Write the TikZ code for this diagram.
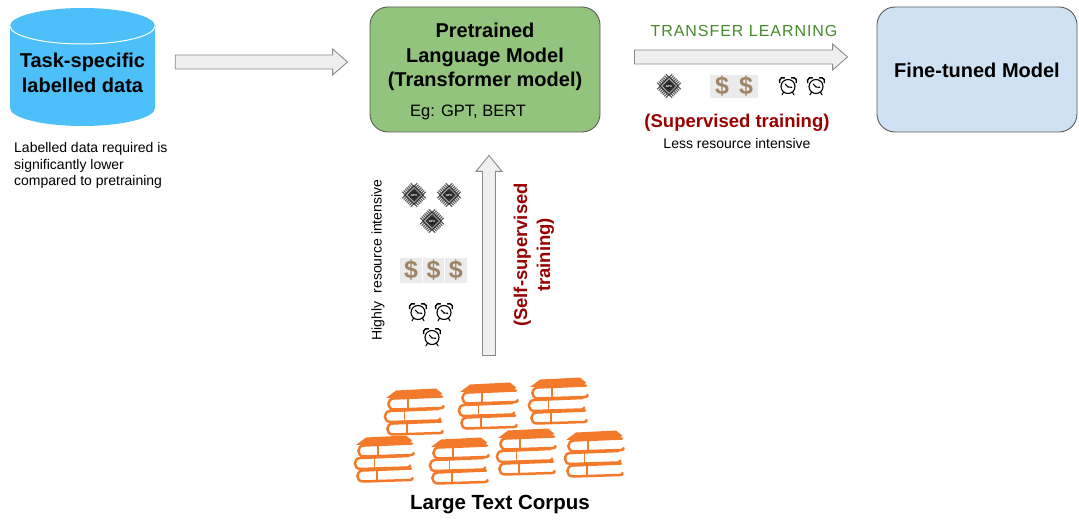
\documentclass[tikz,border=0pt]{standalone}
\usepackage{fontspec}
\setmainfont{Liberation Sans}
\newfontfamily\trackedfont{Liberation Sans}[LetterSpace=6]
\usetikzlibrary{calc}

\definecolor{cylblue}{HTML}{4DC0FA}
\definecolor{pmgreen}{HTML}{93C47D}
\definecolor{ftblue}{HTML}{CFE2F3}
\definecolor{boxline}{HTML}{5A5A5A}
\definecolor{darkred}{HTML}{990000}
\definecolor{tlgreen}{HTML}{468A2A}
\definecolor{bookorange}{HTML}{F27A2A}
\definecolor{dollarbrown}{HTML}{A08466}
\definecolor{cellgray}{HTML}{EBEBEB}
\definecolor{arrowfill}{HTML}{EFEFEF}
\definecolor{arrowline}{HTML}{8A8A8A}
\definecolor{gpudark}{HTML}{333333}
\definecolor{gpupin}{HTML}{5E5E5E}

% block arrow pointing right, from #1 to #2 (same height)
\newcommand\hblockarrow[2]{\draw[barrow] let \p1=(#1), \p2=(#2) in
  (\x1,\y1+7pt) -- (\x2-15pt,\y1+7pt) -- (\x2-15pt,\y1+13pt) -- (\x2,\y1)
  -- (\x2-15pt,\y1-13pt) -- (\x2-15pt,\y1-7pt) -- (\x1,\y1-7pt) -- cycle;}
% block arrow pointing up, from #1 (bottom) to #2 (tip)
\newcommand\vblockarrow[2]{\draw[barrow] let \p1=(#1), \p2=(#2) in
  (\x1-6.5pt,\y1) -- (\x1-6.5pt,\y2-16pt) -- (\x1-13pt,\y2-16pt) -- (\x1,\y2)
  -- (\x1+13pt,\y2-16pt) -- (\x1+6.5pt,\y2-16pt) -- (\x1+6.5pt,\y1) -- cycle;}
% row of grey cells with dollar signs: #1 cells, width #2, names #3, left x #4, height #5
\newcommand\moneyrow[5]{%
  \foreach \k in {1,...,#1} {
    \node[moneycell, minimum width=#2-0.8, minimum height=#5, name=#3-\k]
      at ({#4+(\k-0.5)*#2}, 0) {\$};
  }}

\begin{document}
\begin{tikzpicture}[x=1pt,y=-1pt,
  every node/.style={inner sep=0pt},
  barrow/.style={draw=arrowline, fill=arrowfill, line width=0.9pt, line join=miter},
  modelbox/.style={draw=boxline, line width=0.9pt, rounded corners=18pt,
    minimum width=230pt, minimum height=125pt},
  heading/.style={font=\fontsize{20}{24.5}\selectfont\bfseries, align=center},
  note/.style={font=\fontsize{14}{16.5}\selectfont, align=left},
  redlabel/.style={font=\fontsize{18.5}{23}\selectfont\bfseries, text=darkred, align=center},
  moneycell/.style={fill=cellgray, text=dollarbrown, font=\fontsize{25}{25}\selectfont\bfseries},
  bookline/.style={draw=bookorange, line width=2.5pt, line cap=round, line join=round},
  bookthin/.style={draw=bookorange, line width=1.2pt},
  pinline/.style={draw=gpupin, line width=1.1pt},
  clockline/.style={draw=black, line width=1.1pt, line cap=round},
  gpu/.pic={
    \begin{scope}[rotate=45]
      \foreach \i in {-6,-4,...,6} {
        \draw[pinline] (\i,-10.5) -- (\i,10.5);
        \draw[pinline] (-10.5,\i) -- (10.5,\i);
      }
      \fill[gpudark] (-7,-7) rectangle (7,7);
      \draw[white!80!black, line width=0.7pt] (-5.3,-5.3) rectangle (5.3,5.3);
      \fill[black!85] (0,0) circle (3.7);
    \end{scope}
    \node[font=\fontsize{3}{3}\selectfont\bfseries, text=white] at (0,0) {GPU};
  },
  alarm/.pic={
    \draw[clockline] (0,0.5) circle (7);
    \draw[clockline, line width=1.4pt] (-5,-4.8) ++(155:3.6) arc[start angle=155, end angle=295, radius=3.6];
    \draw[clockline, line width=1.4pt] (5,-4.8) ++(-115:3.6) arc[start angle=-115, end angle=25, radius=3.6];
    \draw[clockline] (-4.3,6) -- (-6,8.8);
    \draw[clockline] (4.3,6) -- (6,8.8);
    \draw[clockline] (0,1) -- (-2.8,-2);
    \draw[clockline] (0,1) -- (3.8,1.3);
  },
  bookstack/.pic={
    % cover of the top book
    \fill[bookorange] (3,10) -- (13,2.5) -- (53,0.5) -- (59,5.5) -- (57,8) -- cycle;
    % three books: rounded spine on the left, page block on the right
    \foreach \dx/\by in {2/9, -1.5/21.5, 1/34} {
      \draw[bookline] (\dx+57,\by-0.5) -- (\dx+9,\by+1.5)
        .. controls (\dx+1.5,\by+1.5) and (\dx+1.5,\by+12.5) .. (\dx+9,\by+12.5)
        -- (\dx+56,\by+11) .. controls (\dx+58.5,\by+10.5) .. (\dx+58.5,\by+9);
      \draw[bookthin] (\dx+23,\by+1.2) -- (\dx+23,\by+12.2);
    }
  }
]
\useasboundingbox (0,0) rectangle (1079,521);

% ---------- task-specific data (cylinder) ----------
\fill[cylblue] (10,26) -- (10,108)
  arc[start angle=180, end angle=0, x radius=72.5, y radius=18] -- (155,26)
  arc[start angle=0, end angle=-180, x radius=72.5, y radius=18] -- cycle;
\draw[white, line width=1pt] (10,26)
  arc[start angle=180, end angle=0, x radius=72.5, y radius=18];
\node[minimum width=145pt, minimum height=118pt] (cyl) at (82.5,67) {};
\node[heading] (cyltxt) at (82.5,73) {Task-specific\\labelled data};
\node[note, anchor=north west] (cylnote) at (14,142.5)
  {Labelled data required is\\significantly lower\\compared to pretraining};

% ---------- models ----------
\node[modelbox, fill=pmgreen] (pm) at (485,69.5) {};
\node[heading] (pmtxt) at (485,57) {Pretrained\\Language Model\\(Transformer model)};
\node[font=\fontsize{16.5}{20}\selectfont, anchor=base west] (eg) at (410,117) {Eg: GPT, BERT};

\node[modelbox, fill=ftblue, minimum width=200pt] (ft) at (977,69.5) {};
\node[heading] (fttxt) at (977,70) {Fine-tuned Model};

% ---------- arrows ----------
\path (cyl.east) ++(20,-5) coordinate (a1s);
\path (pm.west) ++(-22,-7.5) coordinate (a1e);
\hblockarrow{a1s}{a1e}

\path (pm.east) ++(34,-12.5) coordinate (a2s);
\path (ft.west) ++(-29,-12.5) coordinate (a2e);
\hblockarrow{a2s}{a2e}

\path (pm.south) ++(4,23) coordinate (a3e);
\path (a3e) ++(0,200) coordinate (a3s);
\vblockarrow{a3s}{a3e}

% ---------- transfer learning labels ----------
\node[font=\fontsize{16}{18}\selectfont\trackedfont, text=tlgreen] (tl) at (744,31) {TRANSFER LEARNING};
\pic at (669,86) {gpu};
\begin{scope}[yshift=-86.5pt]
  \moneyrow{2}{24}{hm}{710}{23}
\end{scope}
\pic at (788,86) {alarm};
\pic at (816,86) {alarm};
\node[redlabel] (sup) at (737,123) {(Supervised training)};
\node[font=\fontsize{14}{16}\selectfont] (lri) at (737,143.5) {Less resource intensive};

% ---------- pretraining labels ----------
\node[rotate=90, font=\fontsize{14}{16}\selectfont] (hri) at (378,260)
  {Highly\hspace{0.3em} resource intensive};
\pic at (414,195) {gpu};
\pic at (449,195) {gpu};
\pic at (432,221) {gpu};
\begin{scope}[yshift=-270.5pt]
  \moneyrow{3}{22.3}{vm}{400}{25}
\end{scope}
\pic at (418,312) {alarm};
\pic at (444,312) {alarm};
\pic at (432,337) {alarm};
\node[redlabel, rotate=90] (ssl) at (534,255) {(Self-supervised\\training)};

% ---------- corpus ----------
\pic at (383,388) {bookstack};
\pic at (457,382) {bookstack};
\pic at (527,377) {bookstack};
\pic at (353,435) {bookstack};
\pic at (428,437) {bookstack};
\pic at (495,428) {bookstack};
\pic at (563,430) {bookstack};
\node[font=\fontsize{20.5}{24}\selectfont\bfseries] (corpus) at (500,505) {Large Text Corpus};
\end{tikzpicture}
\end{document}
